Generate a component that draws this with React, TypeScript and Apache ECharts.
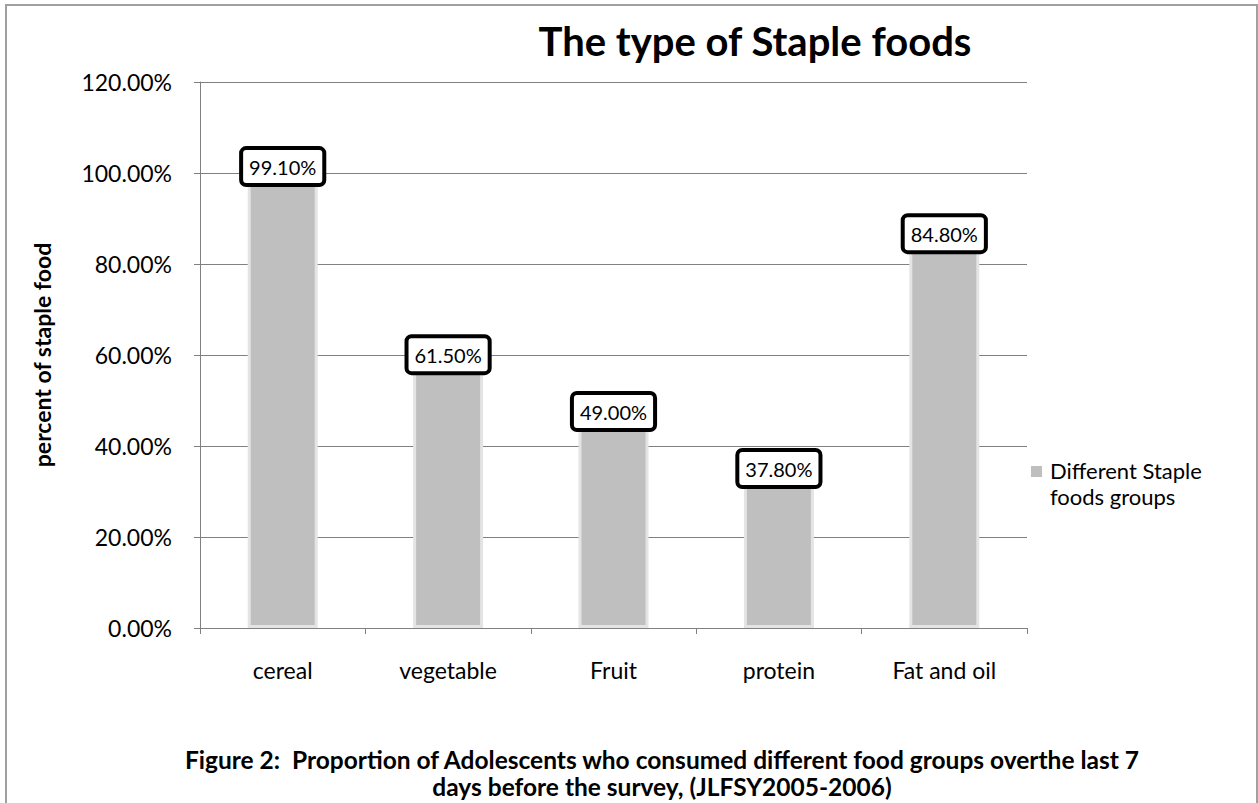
import React, { useEffect, useRef } from "react";
import * as echarts from "echarts";

const categories = ["cereal", "vegetable", "Fruit", "protein", "Fat and oil"];
const values = [0.991, 0.615, 0.49, 0.378, 0.848];
const seriesName = "Different Staple foods groups";
const legendLines = ["Different Staple", "foods groups"];
const titleText = "The type of Staple foods";
const yAxisName = "percent of staple food";
const captionLines = [
  "Figure 2:  Proportion of Adolescents who consumed different food groups overthe last 7",
  "days before the survey, (JLFSY2005-2006)",
];
// vertical nudges of the data-label boxes (as placed in the original)
const labelNudges = [11, 28, 28, 34, 13];

const FONT = "Lato, 'Open Sans', sans-serif";

export default function App() {
  const ref = useRef<HTMLDivElement>(null);
  useEffect(() => {
    document.body.style.margin = "0";
    const chart = echarts.init(ref.current!, null, { renderer: "svg" });
    chart.setOption({
      animation: false,
      backgroundColor: "#ffffff",
      textStyle: { fontFamily: FONT },
      title: {
        text: titleText,
        left: 750,
        top: 16,
        textAlign: "center",
        textStyle: { fontFamily: FONT, fontWeight: "bold", fontSize: 40, color: "#000" },
      },
      grid: { left: 200, right: 231, top: 82, bottom: 175 },
      xAxis: {
        type: "category",
        data: categories,
        axisLine: { lineStyle: { color: "#808080", width: 1 } },
        axisTick: { show: true, length: 6, lineStyle: { color: "#808080" } },
        axisLabel: { margin: 30, fontSize: 23, color: "#000", fontFamily: FONT },
      },
      yAxis: {
        type: "value",
        min: 0,
        max: 1.2,
        interval: 0.2,
        name: yAxisName,
        nameLocation: "middle",
        nameGap: 147,
        nameTextStyle: { fontFamily: FONT, fontWeight: "bold", fontSize: 23, color: "#000" },
        axisLine: { show: true, lineStyle: { color: "#808080", width: 1 } },
        axisTick: { show: true, length: 6, lineStyle: { color: "#808080" } },
        splitLine: { lineStyle: { color: "#808080", width: 1 } },
        axisLabel: {
          margin: 28,
          fontSize: 23,
          color: "#000",
          fontFamily: FONT,
          formatter: (v: number) => (v * 100).toFixed(2) + "%",
        },
      },
      series: [
        {
          name: seriesName,
          type: "bar",
          data: values.map((v, i) => ({
            value: v,
            label: { offset: [0, labelNudges[i]] },
          })),
          barWidth: 70,
          itemStyle: { color: "#bfbfbf", borderColor: "#e4e4e4", borderWidth: 3 },
          label: {
            show: true,
            position: "top",
            formatter: (p: any) => (p.value * 100).toFixed(2) + "%",
            fontSize: 20,
            fontFamily: FONT,
            color: "#000",
            backgroundColor: "#fff",
            borderColor: "#000",
            borderWidth: 4,
            borderRadius: 3,
            padding: [7, 6, 6, 6],
          },
        },
      ],
      graphic: [
        {
          type: "rect",
          shape: { x: 6, y: 5, width: 1251, height: 820 },
          style: { fill: "none", stroke: "#a0a0a0", lineWidth: 2 },
          silent: true,
        },
        {
          type: "rect",
          shape: { x: 1031, y: 466, width: 11, height: 11 },
          style: { fill: "#bfbfbf" },
        },
        {
          type: "text",
          x: 1050,
          y: 457,
          style: {
            text: legendLines.join("\n"),
            fontSize: 22,
            lineHeight: 26,
            fontFamily: FONT,
            fill: "#000",
          },
        },
        {
          type: "text",
          x: 662,
          y: 746,
          style: {
            text: captionLines.join("\n"),
            textAlign: "center",
            fontSize: 24.5,
            lineHeight: 27,
            fontWeight: "bold",
            fontFamily: FONT,
            fill: "#000",
          },
        },
      ],
    });
    return () => chart.dispose();
  }, []);
  return (
    <div
      ref={ref}
      style={{ position: "absolute", left: 0, top: 0, width: 1258, height: 803 }}
    />
  );
}
